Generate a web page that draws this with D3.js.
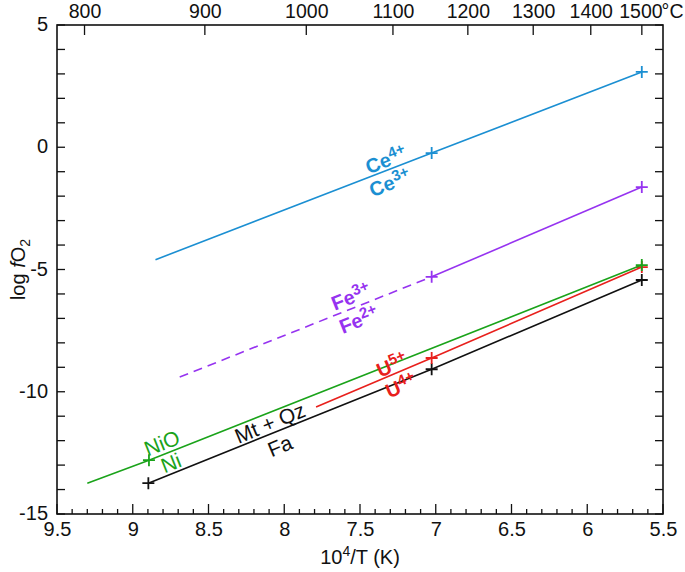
<!DOCTYPE html>
<html><head><meta charset="utf-8">
<script src="https://cdn.jsdelivr.net/npm/d3@7"></script>
<style>
body{margin:0;background:#fff;}
text{font-family:"Liberation Sans",Arial,Helvetica,sans-serif;}
</style></head>
<body><svg id="c" width="685" height="572"></svg>
<script>
// ---- data ----
const xTicks = [9.5, 9, 8.5, 8, 7.5, 7, 6.5, 6, 5.5];
const yTicks = [5, 0, -5, -10, -15];
const celsiusTicks = [800, 900, 1000, 1100, 1200, 1300, 1400, 1500];

const ceX = [8.85, 7.027, 5.64];
const ceY = [-4.6, -0.24, 3.08];
const feDashX = [8.69, 7.027];
const feDashY = [-9.4, -5.3];
const feX = [7.027, 5.64];
const feY = [-5.3, -1.63];
const niX = [9.3, 8.893, 5.64];
const niY = [-13.74, -12.8, -4.82];
const uX = [7.79, 7.027, 5.64];
const uY = [-10.62, -8.62, -4.9];
const faX = [8.897, 7.027, 5.64];
const faY = [-13.74, -9.08, -5.43];

const ceMarks = [1, 2];
const feMarks = [0, 1];
const niMarks = [1, 2];
const uMarks = [1, 2];
const faMarks = [0, 1, 2];

// ---- layout ----
const L = 57, R = 663, T = 25, B = 514;
const FS = 20;
const svg = d3.select("#c");
const x = d3.scaleLinear().domain([9.5, 5.5]).range([L, R]);
const y = d3.scaleLinear().domain([-15, 5]).range([B, T]);

const col = {ce: "#1b8fd2", fe: "#9633f0", ni: "#1aa31a", u: "#e8201c", fa: "#111"};
const fmt = d => String(d);

// axes
const minorX = d3.range(95, 54, -1).map(d => d / 10);
const minorY = d3.range(-15, 6, 1);
const axB = d3.axisBottom(x).tickValues(xTicks).tickFormat(fmt).tickSize(0).tickPadding(8);
const gB = svg.append("g").attr("transform", `translate(0,${B})`).call(axB);
gB.select(".domain").remove();
gB.selectAll("text").attr("font-size", FS).attr("fill", "#111");

const axL = d3.axisLeft(y).tickValues(yTicks).tickFormat(fmt).tickSize(0).tickPadding(9);
const gL = svg.append("g").attr("transform", `translate(${L},0)`).call(axL);
gL.select(".domain").remove();
gL.selectAll("text").attr("font-size", FS).attr("fill", "#111").attr("dy", "0.28em");

const topPos = c => 1e4 / (c + 273.15);
const axT = d3.axisTop(x).tickValues(celsiusTicks.map(topPos)).tickSize(0).tickPadding(7)
  .tickFormat((d, i) => celsiusTicks[i]);
const gT = svg.append("g").attr("transform", `translate(0,${T})`).call(axT);
gT.select(".domain").remove();
gT.selectAll("text").attr("font-size", 19.5).attr("fill", "#111");
const lastT = gT.selectAll("text").filter((d, i) => i === celsiusTicks.length - 1);
lastT.append("tspan").text("°C").attr("dx", -1);
lastT.attr("text-anchor", "end").attr("x", 683 - x(topPos(1500)));

const tickG = svg.append("g").attr("stroke", "#111").attr("stroke-width", 1.3);
minorX.forEach(v => {
  const major = Math.abs(v * 2 - Math.round(v * 2)) < 1e-6;
  tickG.append("line").attr("x1", x(v)).attr("x2", x(v)).attr("y1", B).attr("y2", B - (major ? 10 : 5));
});
celsiusTicks.forEach(c => {
  tickG.append("line").attr("x1", x(topPos(c))).attr("x2", x(topPos(c))).attr("y1", T).attr("y2", T + 10);
});
minorY.forEach(v => {
  tickG.append("line").attr("x1", L).attr("x2", L + 8).attr("y1", y(v)).attr("y2", y(v));
  tickG.append("line").attr("x1", R).attr("x2", R - 8).attr("y1", y(v)).attr("y2", y(v));
});
svg.append("rect").attr("x", L).attr("y", T).attr("width", R - L).attr("height", B - T)
  .attr("fill", "none").attr("stroke", "#111").attr("stroke-width", 1.6);

// axis titles
const xt = svg.append("text").attr("x", (L + R) / 2).attr("y", 564).attr("text-anchor", "middle")
  .attr("font-size", FS).attr("fill", "#111");
xt.append("tspan").text("10");
xt.append("tspan").text("4").attr("font-size", 14).attr("dy", -8);
xt.append("tspan").text("/T (K)").attr("dy", 8);

const yt = svg.append("text").attr("transform", `translate(25,${(T + B) / 2}) rotate(-90)`)
  .attr("text-anchor", "middle").attr("font-size", FS).attr("fill", "#111");
yt.append("tspan").text("log ");
yt.append("tspan").text("f").attr("font-style", "italic");
yt.append("tspan").text("O");
yt.append("tspan").text("2").attr("font-size", 14).attr("dy", 5);

// lines
const line = d3.line().x(d => x(d[0])).y(d => y(d[1]));
function series(xs, ys, color, dash, marks) {
  const pts = xs.map((v, i) => [v, ys[i]]);
  svg.append("path").attr("d", line(pts)).attr("fill", "none").attr("stroke", color)
    .attr("stroke-width", 1.6).attr("stroke-dasharray", dash || null);
  (marks || []).forEach(i => {
    const px = x(pts[i][0]), py = y(pts[i][1]);
    svg.append("path").attr("d", `M${px - 6},${py}H${px + 6}M${px},${py - 6}V${py + 6}`)
      .attr("stroke", color).attr("stroke-width", 1.8);
  });
}
series(feDashX, feDashY, col.fe, "9,6", []);
series(feX, feY, col.fe, null, feMarks);
series(ceX, ceY, col.ce, null, ceMarks);
series(faX, faY, col.fa, null, faMarks);
series(uX, uY, col.u, null, uMarks);
series(niX, niY, col.ni, null, niMarks);

// labels
function angle(xs, ys) {
  const a = xs.length - 1;
  return Math.atan2(y(ys[a]) - y(ys[0]), x(xs[a]) - x(xs[0])) * 180 / Math.PI;
}
const labels = [
  {x: 7.328, y: -0.52, base: "Ce", sup: "4+", c: col.ce, bold: true, a: angle(ceX, ceY)},
  {x: 7.302, y: -1.46, base: "Ce", sup: "3+", c: col.ce, bold: true, a: angle(ceX, ceY)},
  {x: 7.559, y: -6.12, base: "Fe", sup: "3+", c: col.fe, bold: true, a: angle(feDashX, feDashY)},
  {x: 7.507, y: -7.07, base: "Fe", sup: "2+", c: col.fe, bold: true, a: angle(feDashX, feDashY)},
  {x: 7.289, y: -8.91, base: "U", sup: "5+", c: col.u, bold: true, a: angle(uX, uY)},
  {x: 7.229, y: -9.76, base: "U", sup: "4+", c: col.u, bold: true, a: angle(uX, uY)},
  {x: 8.094, y: -11.28, base: "Mt + Qz", sup: "", c: col.fa, bold: false, a: angle(faX, faY)},
  {x: 8.028, y: -12.22, base: "Fa", sup: "", c: col.fa, bold: false, a: angle(faX, faY)},
  {x: 8.807, y: -12.10, base: "NiO", sup: "", c: col.ni, bold: false, a: angle(niX, niY)},
  {x: 8.748, y: -12.91, base: "Ni", sup: "", c: col.ni, bold: false, a: angle(niX, niY)}
];
labels.forEach(l => {
  const t = svg.append("text")
    .attr("transform", `translate(${x(l.x)},${y(l.y)}) rotate(${l.a})`)
    .attr("text-anchor", "middle").attr("dy", "0.35em")
    .attr("font-size", l.bold ? 20 : 21).attr("font-weight", l.bold ? "bold" : "normal").attr("fill", l.c);
  t.append("tspan").text(l.base);
  if (l.sup) t.append("tspan").text(l.sup).attr("font-size", 15).attr("dy", -7);
});
</script></body></html>
